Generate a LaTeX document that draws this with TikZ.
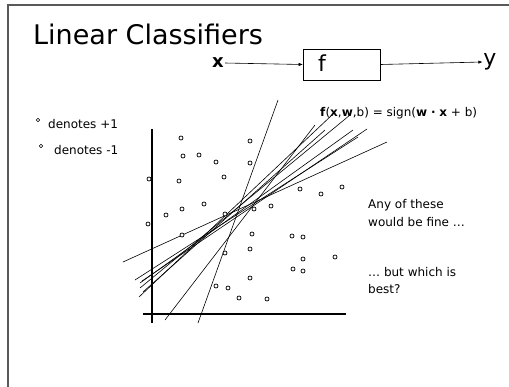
\documentclass[tikz,border=0pt]{standalone}
\usepackage{fontspec}
\setmainfont{DejaVu Sans}
\usetikzlibrary{arrows.meta}
\begin{document}
\begin{tikzpicture}[x=1pt,y=-1pt,
  pt/.style={circle,draw,line width=0.7pt,inner sep=0pt,minimum size=4pt},
  fan/.style={line width=0.6pt},
  axis/.style={line width=2.6pt},
  txt/.style={anchor=west,inner sep=0pt,font=\fontsize{12}{14}\selectfont},
  flow/.style={line width=0.6pt,-{Triangle[length=4pt,width=3pt]}}]
\useasboundingbox (0,0) rectangle (509,386);
% frame
\draw[gray!70!black,line width=1.2pt] (8,400) -- (8,5) -- (520,5);
% title
\node[anchor=base west,inner sep=0pt,font=\fontsize{27}{30}\selectfont] (title) at (33,44) {Linear Classifiers};
% x -> f -> y
\node[inner sep=1pt,font=\fontsize{18}{20}\selectfont\bfseries] (xin) at (218,63) {x};
\node[draw,line width=0.8pt,minimum width=77pt,minimum height=31pt,inner sep=0pt] (fbox) at (341.5,64.5) {};
\node[anchor=west,inner sep=0pt,font=\fontsize{22}{24}\selectfont] (flab) at (318,63) {f};
\node[inner sep=1pt,font=\fontsize{22}{24}\selectfont] (yout) at (490,62) {y};
\draw[flow] (xin.east) -- (fbox.west);
\draw[flow] (fbox.east) -- (yout.west);
% legend
\node[pt,minimum size=3.5pt] (lp) at (38,120) {};
\node[txt] (lpt) at (48,124) {denotes +1};
\node[pt,minimum size=3.5pt] (ln) at (41,146) {};
\node[txt] (lnt) at (54,150) {denotes -1};
% formula
\node[txt] (formula) at (320,113) {\textbf{f}(\textbf{x},\textbf{w},b) = sign(\textbf{w} \textbf{·} \textbf{x} + b)};
% comments
\node[txt] (c1) at (368,205) {Any of these};
\node[txt] (c2) at (368,222) {would be fine …};
\node[txt] (c3) at (368,272) {… but which is};
\node[txt] (c4) at (368,289) {best?};
% axes
\coordinate (vt) at (152,129);
\coordinate (vb) at (152,323);
\coordinate (hl) at (143,314);
\coordinate (hr) at (346,314);
\draw[axis] (vt) -- (vb);
\draw[axis] (hl) -- (hr);
% fan of lines
\foreach \n/\a/\b in {1/{123,262}/{387,142},2/{135,280}/{358,137},3/{140,283}/{353,130},4/{142,281}/{367,129},5/{140,288}/{350,115},6/{139,297}/{332,115},7/{143,292}/{325,130},8/{165,320}/{315,125},9/{198,323}/{278,100}}{
  \coordinate (s\n) at (\a);
  \coordinate (e\n) at (\b);
  \draw[fan] (s\n) -- (e\n);
}
% data points
\foreach \p [count=\i] in {{181,138},{250,141},{183,156},{199,155},{216,162},{250,163},{149,179},{179,181},{224,177},{300,189},{321,194},{342,187},{204,204},{182,209},{166,215},{225,214},{254,209},{271,206},{148,224},{182,235},{252,234},{292,236},{303,237},{250,249},{225,253},{303,259},{335,257},{293,269},{303,271},{250,278},{216,286},{228,288},{239,298},{267,299}}{
  \node[pt,fill=white] (p\i) at (\p) {};
}
\end{tikzpicture}
\end{document}
